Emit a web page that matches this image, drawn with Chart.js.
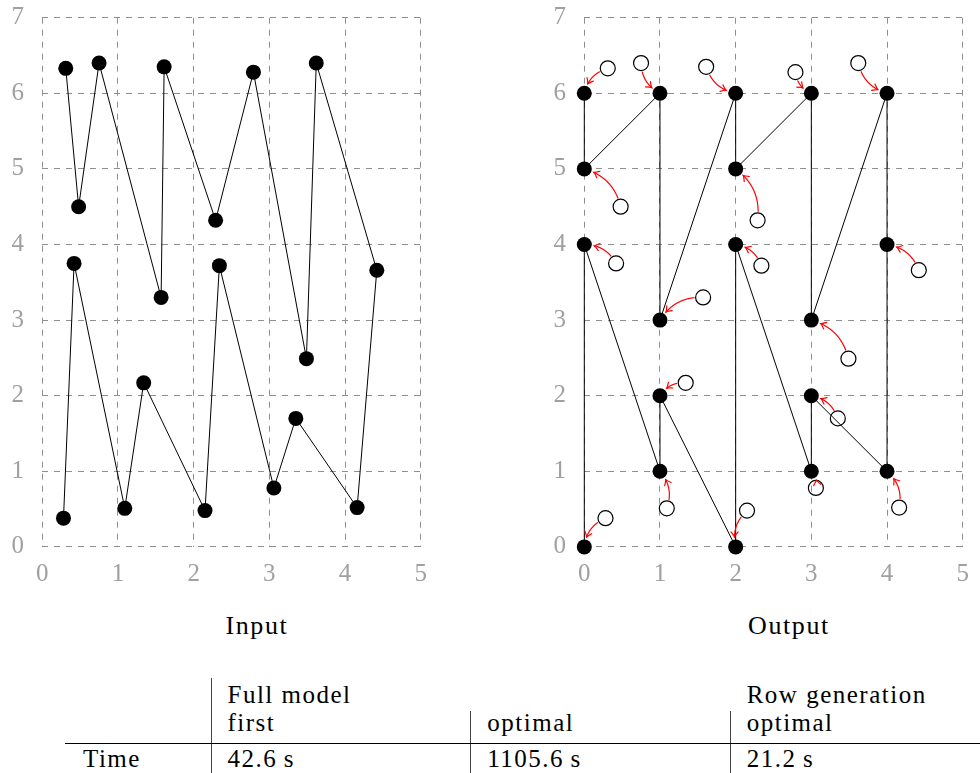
<!DOCTYPE html>
<html>
<head>
<meta charset="utf-8">
<script src="https://cdn.jsdelivr.net/npm/chart.js@4.4.0/dist/chart.umd.min.js"></script>
<style>
html,body{margin:0;padding:0;background:#fff;width:980px;height:773px;overflow:hidden;position:relative;}
canvas{position:absolute;top:0;}
.t{position:absolute;font-size:25px;line-height:25px;letter-spacing:1.5px;color:#000;white-space:nowrap;}
.tt{font-size:26px;line-height:26px;letter-spacing:1.6px;}
.vl{position:absolute;width:1px;background:#444;}
.hl{position:absolute;height:1px;background:#000;}
</style>
</head>
<body>
<canvas id="c1" width="440" height="600" style="left:0px"></canvas>
<canvas id="c2" width="440" height="600" style="left:542.4px"></canvas>
<div id="txt"></div>
<script>
// ---- data ----
const xTicks = [0, 1, 2, 3, 4, 5];
const yTicks = [0, 1, 2, 3, 4, 5, 6, 7];
// input points, in path order
const inputX = [0.28, 0.42, 1.09, 1.34, 2.15, 2.34, 3.06, 3.35, 4.16, 4.42, 3.62, 3.49, 2.79, 2.29, 1.61, 1.57, 0.75, 0.48, 0.31];
const inputY = [0.38, 3.75, 0.51, 2.17, 0.48, 3.72, 0.78, 1.70, 0.52, 3.66, 6.40, 2.49, 6.28, 4.32, 6.35, 3.30, 6.40, 4.50, 6.33];
// output (snapped) points, same order
const outputX = [0, 0, 1, 1, 2, 2, 3, 3, 4, 4, 4, 3, 3, 2, 2, 1, 1, 0, 0];
const outputY = [0, 4, 1, 2, 0, 4, 1, 2, 1, 4, 6, 3, 6, 5, 6, 3, 6, 5, 6];
const chartTitles = ['Input', 'Output'];
const tableGroups = ['Full model', 'Row generation'];
const tableCols = ['first', 'optimal', 'optimal'];
const tableRowLabel = 'Time';
const tableTimes = ['42.6\u2009s', '1105.6\u2009s', '21.2\u2009s'];

// ---- pick an installed serif font ----
function pickFont(cands) {
  const ctx = document.createElement('canvas').getContext('2d');
  const test = 'Input Wmil 0123456789 genRT';
  for (const f of cands) {
    for (const base of ['monospace', 'sans-serif']) {
      ctx.font = '40px ' + base; const w0 = ctx.measureText(test).width;
      ctx.font = '40px "' + f + '", ' + base; const w1 = ctx.measureText(test).width;
      if (Math.abs(w0 - w1) > 0.5) return f;
    }
  }
  return null;
}
const serifName = pickFont(['Liberation Serif', 'DejaVu Serif', 'Noto Serif', 'Times New Roman', 'Tinos',
  'FreeSerif', 'Nimbus Roman', 'Nimbus Roman No9 L', 'TeX Gyre Termes', 'Latin Modern Roman', 'CMU Serif', 'Georgia']);
const FONT_FAMILY = (serifName ? '"' + serifName + '", ' : '') + 'serif';
document.body.style.fontFamily = FONT_FAMILY;

// ---- helpers ----
const inputPts = inputX.map((x, i) => ({x: x, y: inputY[i]}));
const outputPts = outputX.map((x, i) => ({x: x, y: outputY[i]}));

function axisCommon(ticksArr, isX) {
  return {
    type: 'linear',
    min: ticksArr[0],
    max: ticksArr[ticksArr.length - 1],
    afterBuildTicks: s => { s.ticks = ticksArr.map(v => ({value: v})); },
    afterFit: s => {
      if (isX) s.height = 53.1; else s.width = 42.3;
      s.paddingTop = 0; s.paddingBottom = 0; s.paddingLeft = 0; s.paddingRight = 0;
    },
    grid: {color: '#8f8f8f', lineWidth: 1, drawTicks: false, borderDash: [6, 6]},
    border: {display: false, dash: [6, 6]},
    ticks: {padding: isX ? 13 : 18.3, color: '#a0a0a0', font: {family: FONT_FAMILY, size: 25}}
  };
}

function makeChart(id, datasets, plugins) {
  return new Chart(document.getElementById(id), {
    type: 'scatter',
    data: {datasets: datasets},
    options: {
      responsive: false, animation: false, devicePixelRatio: 1, events: [],
      layout: {padding: {top: 17.7, right: 19.3, left: 0, bottom: 0}},
      plugins: {legend: {display: false}, tooltip: {enabled: false}, title: {display: false}},
      scales: {x: axisCommon(xTicks, true), y: axisCommon(yTicks, false)}
    },
    plugins: plugins || []
  });
}

function pathDataset(pts) {
  return {
    data: pts, showLine: true, borderColor: '#000', borderWidth: 1, tension: 0,
    pointRadius: 7.5, pointHoverRadius: 7.5, pointBackgroundColor: '#000', pointBorderWidth: 0,
    clip: false, order: 2
  };
}

function bez(p0, c1, c2, p1, t) {
  const m = 1 - t;
  return {
    x: m*m*m*p0.x + 3*m*m*t*c1.x + 3*m*t*t*c2.x + t*t*t*p1.x,
    y: m*m*m*p0.y + 3*m*m*t*c1.y + 3*m*t*t*c2.y + t*t*t*p1.y
  };
}

function drawBentArrow(ctx, P0, P1, r0, r1) {
  const dx = P1.x - P0.x, dy = P1.y - P0.y, d = Math.hypot(dx, dy);
  const ux = dx / d, uy = dy / d, nx = -uy, ny = ux;
  const k = 0.3915 * d, c = Math.cos(Math.PI / 6), s = Math.sin(Math.PI / 6);
  const C1 = {x: P0.x + k * (c * ux + s * nx), y: P0.y + k * (c * uy + s * ny)};
  const C2 = {x: P1.x + k * (-c * ux + s * nx), y: P1.y + k * (-c * uy + s * ny)};
  const N = 300, pts = [];
  for (let i = 0; i <= N; i++) pts.push(bez(P0, C1, C2, P1, i / N));
  let i0 = 0; while (i0 < N && Math.hypot(pts[i0].x - P0.x, pts[i0].y - P0.y) < r0) i0++;
  let i1 = N; while (i1 > 1 && Math.hypot(pts[i1].x - P1.x, pts[i1].y - P1.y) < r1) i1--;
  if (i0 < i1) {
    ctx.beginPath();
    ctx.moveTo(pts[i0].x, pts[i0].y);
    for (let i = i0 + 1; i <= i1; i++) ctx.lineTo(pts[i].x, pts[i].y);
    ctx.stroke();
  }
  const tip = pts[i1], prev = pts[Math.max(0, i1 - 3)];
  let tx = tip.x - prev.x, ty = tip.y - prev.y; const tl = Math.hypot(tx, ty) || 1; tx /= tl; ty /= tl;
  const px = -ty, py = tx;
  ctx.beginPath();
  ctx.moveTo(tip.x - 5 * tx + 3.6 * px, tip.y - 5 * ty + 3.6 * py);
  ctx.quadraticCurveTo(tip.x - 1.5 * tx + 0.6 * px, tip.y - 1.5 * ty + 0.6 * py, tip.x, tip.y);
  ctx.quadraticCurveTo(tip.x - 1.5 * tx - 0.6 * px, tip.y - 1.5 * ty - 0.6 * py, tip.x - 5 * tx - 3.6 * px, tip.y - 5 * ty - 3.6 * py);
  ctx.stroke();
}

const arrowPlugin = {
  id: 'arrows',
  afterDatasetsDraw(chart) {
    const ctx = chart.ctx, xs = chart.scales.x, ys = chart.scales.y;
    ctx.save();
    ctx.strokeStyle = '#ff0000';
    ctx.lineWidth = 1.2;
    ctx.lineCap = 'round';
    for (let i = 0; i < inputX.length; i++) {
      const P0 = {x: xs.getPixelForValue(inputX[i]), y: ys.getPixelForValue(inputY[i])};
      const P1 = {x: xs.getPixelForValue(outputX[i]), y: ys.getPixelForValue(outputY[i])};
      drawBentArrow(ctx, P0, P1, 9, 10);
    }
    ctx.restore();
  }
};

makeChart('c1', [pathDataset(inputPts)]);
makeChart('c2', [
  pathDataset(outputPts),
  {data: inputPts, showLine: false, pointRadius: 7.5, pointHoverRadius: 7.5,
   pointBackgroundColor: 'rgba(0,0,0,0)', pointBorderColor: '#000', pointBorderWidth: 1.2, clip: false, order: 1}
], [arrowPlugin]);

// ---- titles and table ----
const host = document.getElementById('txt');
function addText(str, left, baseline, cls) {
  const el = document.createElement('div');
  el.className = 't' + (cls ? ' ' + cls : '');
  el.textContent = str;
  const fs = cls === 'tt' ? 26 : 25;
  el.style.left = left + 'px';
  el.style.top = (baseline - 0.836 * fs) + 'px';
  host.appendChild(el);
}
function addBox(cls, left, top, w, h) {
  const el = document.createElement('div');
  el.className = cls;
  el.style.left = left + 'px'; el.style.top = top + 'px';
  if (w) el.style.width = w + 'px';
  if (h) el.style.height = h + 'px';
  host.appendChild(el);
}
addText(chartTitles[0], 225.5, 634.3, 'tt');
addText(chartTitles[1], 748, 634.3, 'tt');
const colX = [227.5, 487.3, 746.7];
addText(tableGroups[0], colX[0], 702.5);
addText(tableGroups[1], colX[2], 702.5);
tableCols.forEach((c, i) => addText(c, colX[i], 730.5));
addText(tableRowLabel, 83, 767);
tableTimes.forEach((c, i) => addText(c, colX[i], 767));
addBox('vl', 210.5, 678, 0, 95);
addBox('vl', 470, 711, 0, 62);
addBox('vl', 730, 711, 0, 62);
addBox('hl', 65, 742.5, 915, 0);
</script>
</body>
</html>
